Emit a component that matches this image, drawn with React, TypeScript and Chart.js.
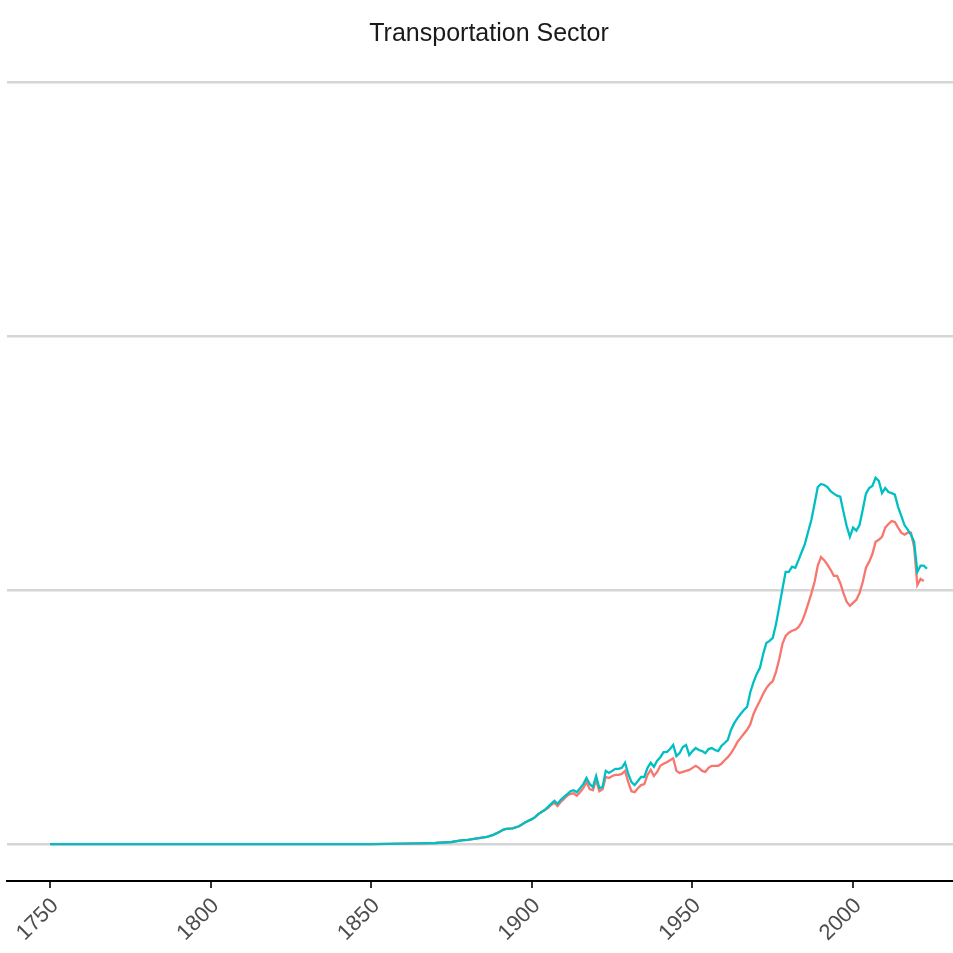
import React, { useEffect, useRef } from "react";
import { Chart, registerables } from "chart.js";

Chart.register(...registerables);

const TITLE = "Transportation Sector";
const earlyYears = [1750, 1800, 1850, 1855, 1860, 1865, 1870, 1875, 1878, 1880, 1885, 1886, 1888, 1890, 1891, 1892, 1894, 1896, 1898];
const laterYears = Array.from({ length: 2023 - 1900 + 1 }, (_, i) => 1900 + i);
const years = [...earlyYears, ...laterYears];

const tealValues = [
  0, 0, 0, 0.4, 0.6, 1.2, 2, 4, 7, 8, 13, 14, 18, 24, 28, 30, 31, 35, 43,
  // 1900-1909
  49, 53, 59, 63, 67, 73, 79, 85, 79, 87,
  // 1910-1919
  93, 98, 104, 106, 102, 110, 118, 130, 118, 112,
  // 1920-1929
  134, 110, 112, 144, 140, 144, 148, 148, 150, 160,
  // 1930-1939
  138, 122, 116, 124, 132, 132, 150, 160, 152, 164,
  // 1940-1949
  171, 181, 181, 187, 195, 173, 179, 191, 195, 175,
  // 1950-1959
  183, 189, 185, 183, 179, 187, 189, 185, 183, 193,
  // 1960-1969
  199, 205, 225, 238, 248, 256, 264, 270, 299, 319,
  // 1970-1979
  335, 347, 374, 396, 400, 406, 433, 467, 502, 536,
  // 1980-1989
  536, 546, 544, 559, 575, 591, 615, 638, 670, 703,
  // 1990-1999
  709, 707, 703, 695, 690, 686, 684, 654, 626, 605,
  // 2000-2009
  623, 617, 628, 658, 690, 701, 705, 721, 715, 691,
  // 2010-2019
  701, 693, 691, 688, 664, 646, 628, 619, 609, 595,
  // 2020-2023
  536, 548, 548, 542,
];

const redValues = [
  0, 0, 0, 0.4, 0.6, 1.2, 2, 4, 7, 8, 13, 14, 18, 24, 28, 30, 31, 35, 43,
  // 1900-1909
  49, 53, 59, 63, 67, 71, 77, 81, 75, 83,
  // 1910-1919
  89, 95, 99, 100, 95, 102, 110, 122, 108, 106,
  // 1920-1929
  126, 104, 108, 132, 130, 134, 136, 136, 138, 144,
  // 1930-1939
  122, 104, 102, 110, 116, 118, 136, 146, 134, 142,
  // 1940-1949
  154, 158, 161, 165, 169, 144, 140, 142, 144, 146,
  // 1950-1959
  150, 154, 150, 144, 142, 150, 154, 154, 154, 158,
  // 1960-1969
  165, 171, 179, 189, 201, 209, 217, 225, 236, 256,
  // 1970-1979
  270, 282, 296, 307, 315, 321, 339, 364, 394, 410,
  // 1980-1989
  416, 420, 422, 427, 437, 453, 473, 493, 516, 548,
  // 1990-1999
  565, 559, 550, 540, 528, 528, 514, 494, 477, 469,
  // 2000-2009
  475, 481, 494, 516, 544, 556, 571, 595, 599, 605,
  // 2010-2019
  623, 630, 636, 634, 623, 613, 609, 613, 613, 585,
  // 2020-2022
  510, 522, 518,
];

const xTicks = [1750, 1800, 1850, 1900, 1950, 2000];
const yTicks = [0, 500, 1000, 1500];

const titlePlugin = {
  id: "customTitle",
  afterDraw(chart: any) {
    const ctx = chart.ctx;
    ctx.save();
    ctx.font = '25px "Liberation Sans", Arial, sans-serif';
    ctx.fillStyle = "#1a1a1a";
    ctx.textAlign = "center";
    ctx.textBaseline = "alphabetic";
    ctx.fillText(TITLE, 489, 41);
    ctx.restore();
  },
};

export default function App() {
  const ref = useRef<HTMLCanvasElement>(null);
  useEffect(() => {
    if (!ref.current) return;
    const chart = new Chart(ref.current, {
      type: "line",
      data: {
        datasets: [
          {
            label: "teal",
            data: years.map((y, i) => ({ x: y, y: tealValues[i] })),
            borderColor: "#00BFC4",
            borderWidth: 2.3,
            pointRadius: 0,
            tension: 0,
            order: 0,
          },
          {
            label: "red",
            data: years.slice(0, redValues.length).map((y, i) => ({ x: y, y: redValues[i] })),
            borderColor: "#F8766D",
            borderWidth: 2.3,
            pointRadius: 0,
            tension: 0,
            order: 1,
          },
        ],
      },
      options: {
        animation: false,
        responsive: false,
        layout: { padding: { left: 7, right: 0, top: 67, bottom: 0 } },
        plugins: {
          legend: { display: false },
          title: { display: false },
          tooltip: { enabled: false },
        },
        scales: {
          x: {
            type: "linear",
            min: 1736.6,
            max: 2031.1,
            afterBuildTicks: (scale: any) => {
              scale.ticks = xTicks.map((v) => ({ value: v }));
            },
            afterFit: (scale: any) => {
              scale.height = 72;
              scale.paddingLeft = 0;
              scale.paddingRight = 0;
            },
            ticks: {
              minRotation: 45,
              maxRotation: 45,
              autoSkip: false,
              padding: 5,
              labelOffset: 5,
              color: "#4D4D4D",
              font: { size: 22, family: '"Liberation Sans", Arial, sans-serif' },
              callback: (v: any) => String(v),
            },
            grid: {
              drawOnChartArea: false,
              drawTicks: true,
              tickLength: 7,
              color: "#333333",
              lineWidth: 2,
            },
            border: { display: true, color: "#000000", width: 2 },
          },
          y: {
            type: "linear",
            min: -72.8,
            max: 1530,
            afterBuildTicks: (scale: any) => {
              scale.ticks = yTicks.map((v) => ({ value: v }));
            },
            afterFit: (scale: any) => {
              scale.width = 0;
              scale.paddingTop = 0;
              scale.paddingBottom = 0;
            },
            ticks: { display: false },
            grid: { color: "#D6D6D6", lineWidth: 2.5, drawTicks: false },
            border: { display: false },
          },
        },
      },
      plugins: [titlePlugin],
    });
    return () => chart.destroy();
  }, []);
  return (
    <div style={{ position: "absolute", left: 0, top: 0, width: 953, height: 953, background: "#fff" }}>
      <canvas ref={ref} width={953} height={953} style={{ display: "block" }} />
    </div>
  );
}
